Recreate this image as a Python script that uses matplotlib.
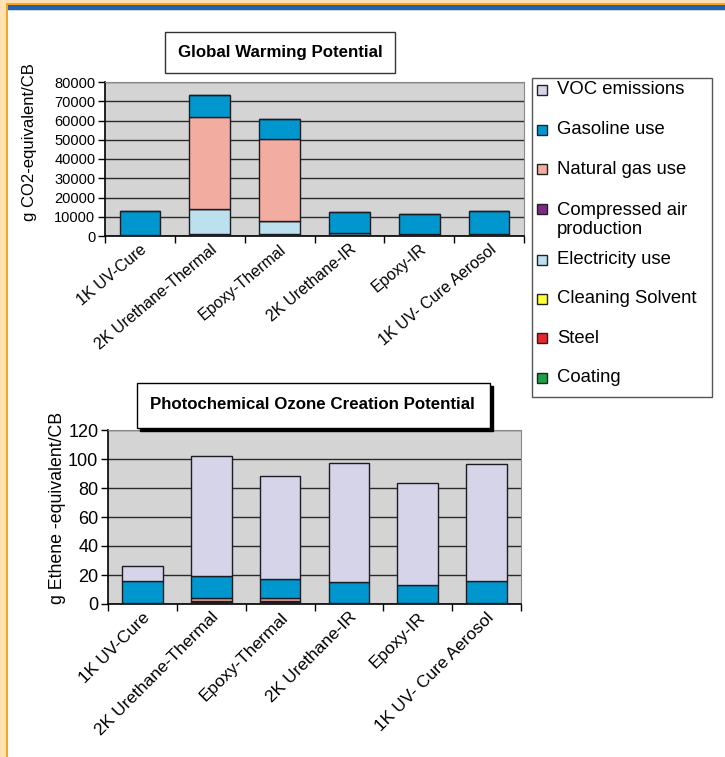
import numpy as np
import matplotlib
matplotlib.use("Agg")
import matplotlib.pyplot as plt
from matplotlib.patches import Rectangle

plt.rcParams["font.family"] = ["Liberation Sans", "DejaVu Sans"]

processes = ["1K UV-Cure", "2K Urethane-Thermal", "Epoxy-Thermal",
             "2K Urethane-IR", "Epoxy-IR", "1K UV- Cure Aerosol"]

# stack order, bottom to top
series = ["Coating", "Steel", "Cleaning Solvent", "Electricity use",
          "Compressed air\nproduction", "Natural gas use", "Gasoline use",
          "VOC emissions"]
colors = ["#1E9E48", "#E8262B", "#FFFF33", "#BDE0EE",
          "#7E2A86", "#F2ADA0", "#0097CF", "#D6D4E9"]

# global warming potential, g CO2-equivalent per CB
gwp_coating = [150, 300, 250, 200, 200, 150]
gwp_steel = [250, 600, 500, 400, 400, 300]
gwp_solvent = [0, 100, 100, 0, 0, 0]
gwp_electricity = [300, 12800, 7200, 700, 600, 350]
gwp_air = [0, 0, 0, 0, 0, 0]
gwp_natgas = [0, 48000, 42500, 0, 0, 0]
gwp_gasoline = [12200, 11600, 10450, 11200, 10200, 12350]
gwp_voc = [0, 0, 0, 0, 0, 0]

# photochemical ozone creation potential, g ethene-equivalent per CB
pocp_coating = [0.2, 0.5, 0.5, 0.3, 0.3, 0.2]
pocp_steel = [0.3, 0.8, 0.8, 0.6, 0.6, 0.3]
pocp_solvent = [0.0, 0.3, 0.3, 0.0, 0.0, 0.0]
pocp_electricity = [0.1, 0.6, 0.4, 0.1, 0.1, 0.1]
pocp_air = [0, 0, 0, 0, 0, 0]
pocp_natgas = [0.0, 2.0, 2.2, 0.0, 0.0, 0.0]
pocp_gasoline = [15.4, 14.8, 13.3, 14.0, 12.3, 15.3]
pocp_voc = [10.5, 83.0, 70.5, 82.0, 70.4, 80.4]

gwp = [gwp_coating, gwp_steel, gwp_solvent, gwp_electricity,
       gwp_air, gwp_natgas, gwp_gasoline, gwp_voc]
pocp = [pocp_coating, pocp_steel, pocp_solvent, pocp_electricity,
        pocp_air, pocp_natgas, pocp_gasoline, pocp_voc]

W, H = 725, 757
fig = plt.figure(figsize=(W / 100, H / 100), dpi=100)


def fx(px):
    return px / W


def fy(py):
    return 1 - py / H


def box(x0, y0, w, h, **kw):
    # rectangle given in pixels from the top-left corner
    fig.add_artist(Rectangle((fx(x0), fy(y0 + h)), fx(w), h / H,
                             transform=fig.transFigure, **kw))


def stacked(ax, layers, width, ymax, ystep, tick_size, label_size, angle):
    x = np.arange(len(processes))
    bottom = np.zeros(len(processes))
    for name, vals, col in zip(series, layers, colors):
        vals = np.asarray(vals, dtype=float)
        ax.bar(x, vals, width, bottom=bottom, color=col,
               edgecolor="#1c1c24", linewidth=1.0, zorder=3, label=name)
        bottom += vals
    ax.set_facecolor("#D4D4D4")
    ax.set_xlim(-0.5, len(processes) - 0.5)
    ax.set_ylim(0, ymax)
    ax.set_yticks(np.arange(0, ymax + ystep, ystep))
    ax.yaxis.grid(True, color="#2a2a2a", linewidth=1.0, zorder=1)
    ax.set_axisbelow(True)
    ax.set_xticks(np.arange(-0.5, len(processes)), labels=[])
    ax.set_xticks(x, labels=processes, minor=True)
    ax.tick_params(axis="x", which="major", length=5, width=1, direction="out")
    ax.tick_params(axis="x", which="minor", length=0, labelsize=label_size,
                   labelrotation=angle, pad=4)
    for lab in ax.get_xticklabels(minor=True):
        lab.set_ha("right")
        lab.set_rotation_mode("anchor")
    ax.tick_params(axis="y", length=5, width=1, direction="out",
                   labelsize=tick_size, pad=2)
    for s in ("top", "right"):
        ax.spines[s].set_color("#8a8a8a")
    for s in ("left", "bottom"):
        ax.spines[s].set_color("black")
        ax.spines[s].set_linewidth(1.2)


ax1 = fig.add_axes([fx(105), fy(236), fx(524 - 105), (236 - 82) / H])
stacked(ax1, gwp, 0.58, 80000, 10000, 10.5, 11.5, 40)

ax2 = fig.add_axes([fx(108), fy(604), fx(521 - 108), (604 - 430) / H])
stacked(ax2, pocp, 0.59, 120, 20, 13, 12.5, 45)

fig.text(fx(30), fy(142), "g CO2-equivalent/CB", rotation=90,
         ha="center", va="center", fontsize=12)
fig.text(fx(57), fy(508), "g Ethene -equivalent/CB", rotation=90,
         ha="center", va="center", fontsize=12.8)

# title boxes
box(165, 32, 230, 41, facecolor="white", edgecolor="#333333", linewidth=1)
fig.text(fx(280), fy(52), "Global Warming Potential", ha="center",
         va="center", fontsize=12.2, fontweight="bold")
box(140, 386, 353, 45, facecolor="black", edgecolor="black", linewidth=1)
box(137, 383, 353, 45, facecolor="white", edgecolor="black", linewidth=1)
fig.text(fx(312), fy(405), "Photochemical Ozone Creation Potential",
         ha="center", va="center", fontsize=12.2, fontweight="bold")

# legend, top entry is the top of the stack
box(532, 78, 180, 319, facecolor="white", edgecolor="#555555", linewidth=1)
key_rows = [90, 130, 169, 209, 260, 299, 338, 378]
text_rows = [90, 130, 169, 220, 260, 299, 338, 378]
for name, col, ky, ty in zip(series[::-1], colors[::-1], key_rows, text_rows):
    box(537, ky - 5, 10, 10, facecolor=col, edgecolor="#222222", linewidth=1)
    fig.text(fx(557), fy(ty), name, ha="left", va="center", fontsize=13.3,
             linespacing=1.2)

# page border strips
strips = [
    (0, 0, 725, 3, "#FFE1B4"),
    (0, 0, 6, 757, "#FFE1B4"),
    (6, 3, 719, 2, "#F7A51E"),
    (6, 3, 2, 754, "#F7A51E"),
    (8, 5, 717, 5, "#2561A8"),
    (8, 10, 717, 1, "#C9D6E6"),
]
for x0, y0, w, h, c in strips:
    box(x0, y0, w, h, facecolor=c, edgecolor="none", zorder=10)

fig.savefig("out.png", dpi=100)
